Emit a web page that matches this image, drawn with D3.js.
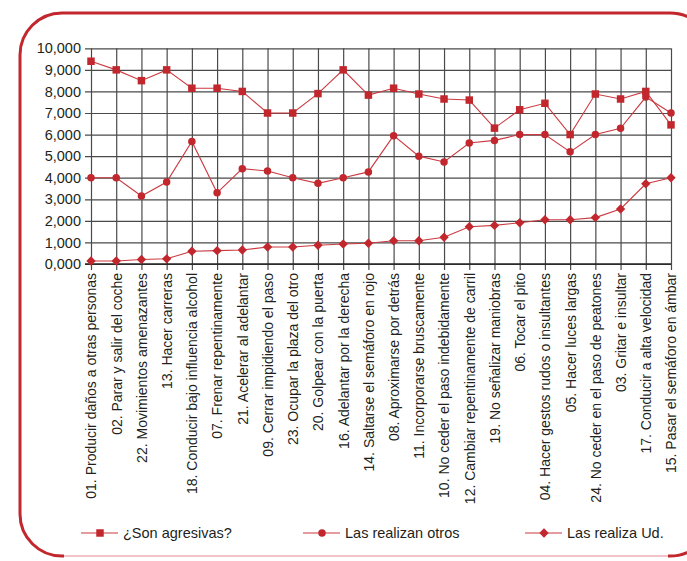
<!DOCTYPE html>
<html><head><meta charset="utf-8">
<script src="https://cdn.jsdelivr.net/npm/d3@7"></script>
<style>
html,body{margin:0;padding:0;background:#fff;}
svg{display:block;font-family:"Liberation Sans",Arial,Helvetica,sans-serif;}
</style>
</head><body>
<svg id="chart" width="687" height="561"></svg>
<script>
const categories = [
  "01. Producir daños a otras personas",
  "02. Parar y salir del coche",
  "22. Movimientos amenazantes",
  "13. Hacer carreras",
  "18. Conducir bajo influencia alcohol",
  "07. Frenar repentinamente",
  "21. Acelerar al adelantar",
  "09. Cerrar impidiendo el paso",
  "23. Ocupar la plaza del otro",
  "20. Golpear con la puerta",
  "16. Adelantar por la derecha",
  "14. Saltarse el semáforo en rojo",
  "08. Aproximarse por detrás",
  "11. Incorporarse bruscamente",
  "10. No ceder el paso indebidamente",
  "12. Cambiar repentinamente de carril",
  "19. No señalizar maniobras",
  "06. Tocar el pito",
  "04. Hacer gestos rudos o insultantes",
  "05. Hacer luces largas",
  "24. No ceder en el paso de peatones",
  "03. Gritar e insultar",
  "17. Conducir a alta velocidad",
  "15. Pasar el semáforo en ámbar"
];
const agresivas = [9400,9000,8500,9000,8150,8150,8000,7000,7000,7900,9000,7830,8150,7880,7650,7600,6300,7150,7450,6000,7880,7650,8000,6450];
const otros     = [4000,4000,3150,3800,5680,3300,4420,4310,4000,3740,4000,4270,5950,5000,4730,5610,5730,6000,6000,5200,6000,6290,7740,7000];
const ud        = [140,140,210,240,590,620,650,790,790,870,930,960,1080,1080,1240,1730,1790,1910,2050,2050,2150,2550,3720,4000];
const yTickValues = [0,1000,2000,3000,4000,5000,6000,7000,8000,9000,10000];
const yTickLabels = ["0,000","1,000","2,000","3,000","4,000","5,000","6,000","7,000","8,000","9,000","10,000"];
const seriesNames = ["¿Son agresivas?","Las realizan otros","Las realiza Ud."];

const RED = "#c1272d";
const LINE = "#cb3a40";
const GRID = "#4a4a4a";
const TEXT = "#231f20";

const svg = d3.select("#chart");

// frame
const fx = 20, fy = 13, fw = 692, fh = 543, fr = 42;
svg.append("rect").attr("x",fx).attr("y",fy).attr("width",fw).attr("height",fh)
  .attr("rx",fr).attr("ry",fr).attr("fill","#fff").attr("stroke",RED).attr("stroke-width",3);
svg.append("line").attr("x1",fx+fr+2).attr("x2",fx+fw-fr-2).attr("y1",fy+fh).attr("y2",fy+fh)
  .attr("stroke","#fff").attr("stroke-width",4);
svg.append("line").attr("x1",fx+fr+2).attr("x2",fx+fw-fr-2).attr("y1",fy+fh).attr("y2",fy+fh)
  .attr("stroke","#f1c3c6").attr("stroke-width",2);

const x = d3.scalePoint().domain(categories).range([91,671]);
const y = d3.scaleLinear().domain([0,10000]).range([264,48.3]);

// horizontal grid + y labels
const yAxis = svg.append("g").attr("transform","translate(85,0)")
  .call(d3.axisLeft(y).tickValues(yTickValues).tickSize(-(671-85)).tickPadding(4)
    .tickFormat((d,i)=>yTickLabels[i]));
yAxis.select(".domain").remove();
yAxis.selectAll(".tick line").attr("stroke",GRID).attr("stroke-width",1.2);
yAxis.selectAll(".tick text").attr("fill",TEXT).attr("font-size","14.5px")
  .attr("font-family","'Liberation Sans',Arial,sans-serif");

// vertical grid + x labels
const xAxis = svg.append("g").attr("transform","translate(0,270)")
  .call(d3.axisBottom(x).tickSize(-(270-y(10000))).tickPadding(0));
xAxis.select(".domain").remove();
xAxis.selectAll(".tick line").attr("stroke",GRID).attr("stroke-width",1.2);
xAxis.selectAll(".tick text")
  .attr("transform","rotate(-90)")
  .attr("text-anchor","end")
  .attr("x",-3).attr("y",0).attr("dy","0.35em")
  .attr("fill",TEXT).attr("font-size","14px")
  .attr("font-family","'Liberation Sans',Arial,sans-serif");

// x baseline
svg.append("line").attr("x1",85).attr("x2",x.range()[1]).attr("y1",y(0)).attr("y2",y(0))
  .attr("stroke","#222").attr("stroke-width",1.3);

// series
const diamond = {draw(ctx,size){const r=Math.sqrt(size/2);ctx.moveTo(0,-r);ctx.lineTo(r,0);ctx.lineTo(0,r);ctx.lineTo(-r,0);ctx.closePath();}};
const series = [
  {name:seriesNames[0], values:agresivas, sym:d3.symbol(d3.symbolSquare,56)},
  {name:seriesNames[1], values:otros, sym:d3.symbol(d3.symbolCircle,44)},
  {name:seriesNames[2], values:ud, sym:d3.symbol(diamond,44)}
];
const line = d3.line().x((d,i)=>x(categories[i])).y(d=>y(d));
series.forEach(s=>{
  svg.append("path").datum(s.values).attr("d",line).attr("fill","none")
    .attr("stroke",LINE).attr("stroke-width",1.1);
});
series.forEach(s=>{
  svg.append("g").selectAll("path").data(s.values).join("path")
    .attr("transform",(d,i)=>`translate(${x(categories[i])},${y(d)})`)
    .attr("d",s.sym()).attr("fill",RED);
});

// legend
const leg = svg.append("g").attr("transform","translate(81,533)");
series.forEach((s,i)=>{
  const g = leg.append("g").attr("transform",`translate(${i*222},0)`);
  g.append("line").attr("x1",0).attr("x2",37).attr("y1",0).attr("y2",0)
    .attr("stroke",LINE).attr("stroke-width",1.1);
  g.append("path").attr("transform","translate(19,0)").attr("d",s.sym()).attr("fill",RED);
  g.append("text").attr("x",42).attr("y",0).attr("dy","0.35em")
    .attr("fill",TEXT).attr("font-size","14.5px").text(s.name);
});
</script>
</body></html>
